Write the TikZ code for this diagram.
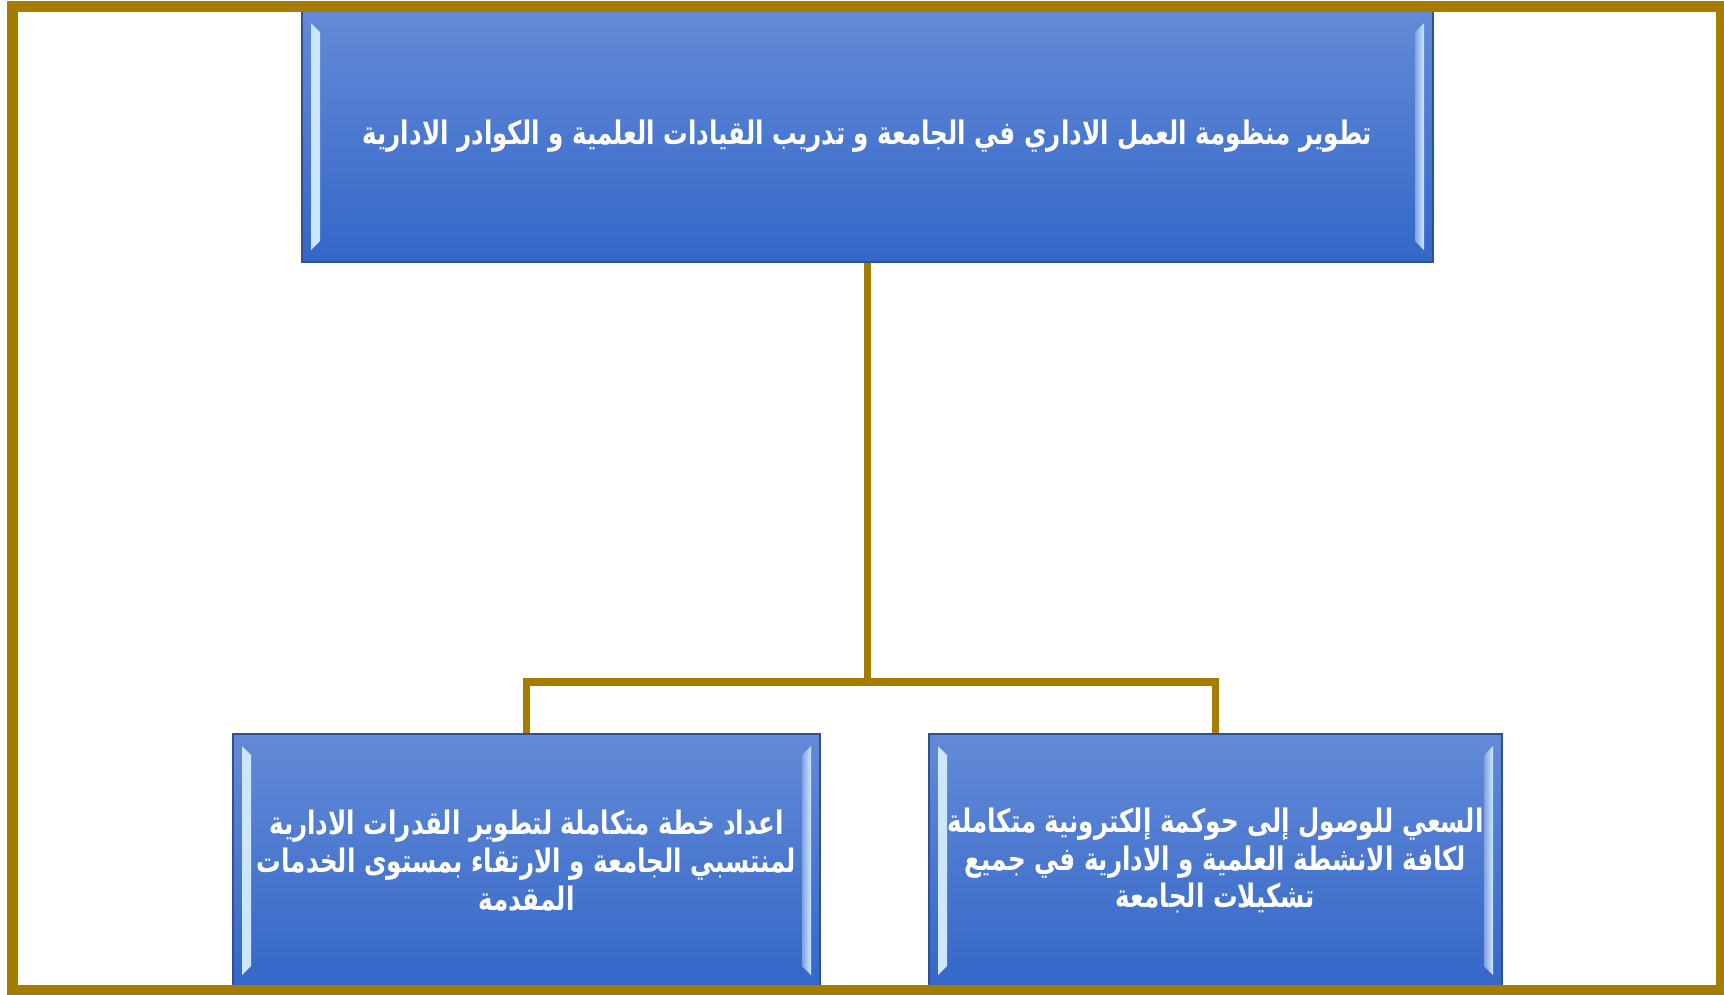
\documentclass[tikz,border=0pt]{standalone}
\usepackage{fontspec}
\newfontfamily\arabicnarrow[Script=Arabic,FakeStretch=0.76]{DejaVu Sans}
\TeXXeTstate=1
\usetikzlibrary{calc}

\definecolor{frameGold}{RGB}{166,124,0}
\definecolor{boxTop}{RGB}{99,138,215}
\definecolor{boxBottom}{RGB}{52,103,200}
\definecolor{boxEdge}{RGB}{47,82,143}
\definecolor{bevelLight}{RGB}{205,232,255}

\begin{document}
\begin{tikzpicture}[x=0.1mm, y=-0.1mm,
  goalbox/.style={draw=boxEdge, line width=0.25mm, top color=boxTop, bottom color=boxBottom,
    inner sep=0pt, text=white, align=center,
    path picture={
      % light bevel on the left and right sides
      \shade[left color=bevelLight, right color=boxTop!80!white]
        ($(path picture bounding box.north west)+(0.9mm,-1.2mm)$) -- ($(path picture bounding box.north west)+(1.8mm,-2.1mm)$)
        -- ($(path picture bounding box.south west)+(1.8mm,2.1mm)$) -- ($(path picture bounding box.south west)+(0.9mm,1.2mm)$) -- cycle;
      \shade[left color=boxTop!80!white, right color=bevelLight]
        ($(path picture bounding box.north east)+(-0.9mm,-1.2mm)$) -- ($(path picture bounding box.north east)+(-1.8mm,-2.1mm)$)
        -- ($(path picture bounding box.south east)+(-1.8mm,2.1mm)$) -- ($(path picture bounding box.south east)+(-0.9mm,1.2mm)$) -- cycle;
    }},
  goaltext/.style={font=\arabicnarrow\bfseries\fontsize{9.2}{11}\selectfont},
  subtext/.style={font=\arabicnarrow\bfseries\fontsize{9.2}{10.8}\selectfont},
  connector/.style={draw=frameGold, line width=0.75mm},
  frame/.style={draw=frameGold, line width=1.1mm}
]
  \useasboundingbox (0,0) rectangle (1724,994);

  % main goal
  \node[goalbox, goaltext, minimum width=113.1mm, minimum height=25.1mm] (goal) at (867.5,136.5)
    {\beginR تطوير منظومة العمل الاداري في الجامعة و تدريب القيادات العلمية و الكوادر الادارية\endR};

  % sub goals
  \node[goalbox, subtext, minimum width=58.7mm, minimum height=25.3mm] (plan) at (526.5,860.5)
    {\beginR اعداد خطة متكاملة لتطوير  القدرات الادارية\endR\\
     \beginR لمنتسبي الجامعة و الارتقاء بمستوى الخدمات\endR\\
     \beginR المقدمة\endR};
  \node[goalbox, subtext, minimum width=57.3mm, minimum height=25.3mm] (egov) at (1215.5,860.5)
    {\beginR السعي للوصول إلى حوكمة إلكترونية متكاملة\endR\\
     \beginR لكافة الانشطة العلمية و الادارية في جميع\endR\\
     \beginR تشكيلات الجامعة\endR};

  % connectors
  \coordinate (joint) at (867.5,682);
  \draw[connector] (goal.south) -- (joint);
  \draw[connector] (plan.north) |- (joint) -| (egov.north);

  % outer frame
  \draw[frame] (12.5,6.5) rectangle (1721,990);
\end{tikzpicture}
\end{document}
